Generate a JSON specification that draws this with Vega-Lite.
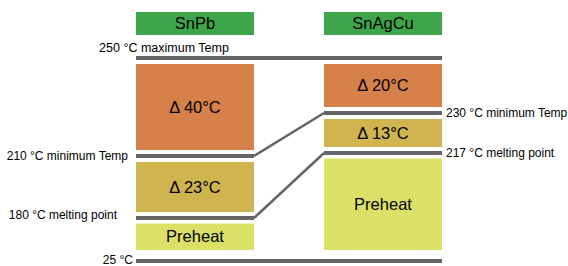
{
  "$schema": "https://vega.github.io/schema/vega-lite/v6.json",
  "width": 568,
  "height": 266,
  "autosize": "none",
  "padding": 0,
  "config": {"view": {"stroke": null}, "font": "Liberation Sans", "text": {"font": "Liberation Sans"}},
  "datasets": {
    "alloys": [{"alloy": "SnPb"}, {"alloy": "SnAgCu"}],
    "zones": [
      {"alloy": "SnPb", "top": 250, "bottom": 210, "label": "Δ 40°C", "zone": "peak"},
      {"alloy": "SnPb", "top": 210, "bottom": 180, "label": "Δ 23°C", "zone": "melt"},
      {"alloy": "SnPb", "top": 180, "bottom": 25, "label": "Preheat", "zone": "preheat"},
      {"alloy": "SnAgCu", "top": 250, "bottom": 230, "label": "Δ 20°C", "zone": "peak"},
      {"alloy": "SnAgCu", "top": 230, "bottom": 217, "label": "Δ 13°C", "zone": "melt"},
      {"alloy": "SnAgCu", "top": 217, "bottom": 25, "label": "Preheat", "zone": "preheat"}
    ],
    "lines": [
      {"temp": 250, "from": "SnPb", "to": "SnAgCu", "text": "250 °C maximum Temp"},
      {"temp": 210, "from": "SnPb", "to": "SnPb", "text": "210 °C minimum Temp"},
      {"temp": 180, "from": "SnPb", "to": "SnPb", "text": "180 °C melting point"},
      {"temp": 230, "from": "SnAgCu", "to": "SnAgCu", "text": "230 °C minimum Temp"},
      {"temp": 217, "from": "SnAgCu", "to": "SnAgCu", "text": "217 °C melting point"},
      {"temp": 25, "from": "SnPb", "to": "SnAgCu", "text": "25 °C"}
    ],
    "links": [
      {"snpb": 210, "snagcu": 230},
      {"snpb": 180, "snagcu": 217}
    ]
  },
  "layer": [
    {
      "data": {"name": "alloys"},
      "encoding": {
        "x": {"field": "alloy", "type": "nominal", "scale": {"type": "band", "domain": ["SnPb", "SnAgCu"], "range": [136, 442], "paddingInner": 0.3723, "paddingOuter": 0}, "axis": null},
        "y": {"datum": "header", "type": "nominal", "scale": {"type": "band", "range": [12, 35], "paddingInner": 0, "paddingOuter": 0}, "axis": null}
      },
      "layer": [
        {"mark": {"type": "bar", "color": "#3EA54A"}},
        {"mark": {"type": "text", "fontSize": 16.5, "color": "#000000"}, "encoding": {"text": {"field": "alloy"}}}
      ]
    },
    {
      "data": {"name": "zones"},
      "encoding": {
        "x": {"field": "alloy", "type": "nominal", "scale": {"type": "band", "domain": ["SnPb", "SnAgCu"], "range": [136, 442], "paddingInner": 0.3723, "paddingOuter": 0}, "axis": null},
        "y": {"field": "top", "type": "quantitative", "scale": {"domain": [25, 180, 210, 217, 230, 250], "range": [261, 218, 156, 153, 113, 58], "zero": false, "nice": false}, "axis": null}
      },
      "layer": [
        {
          "transform": [{"filter": "datum.zone != 'preheat'"}],
          "mark": {"type": "bar", "yOffset": 6, "y2Offset": -6},
          "encoding": {
            "y2": {"field": "bottom"},
            "color": {"field": "zone", "type": "nominal", "scale": {"domain": ["peak", "melt", "preheat"], "range": ["#D6804A", "#CFB450", "#DBE166"]}, "legend": null}
          }
        },
        {
          "transform": [{"filter": "datum.zone == 'preheat'"}],
          "mark": {"type": "bar", "yOffset": 5.5, "y2Offset": -11},
          "encoding": {
            "y2": {"field": "bottom"},
            "color": {"field": "zone", "type": "nominal", "scale": {"domain": ["peak", "melt", "preheat"], "range": ["#D6804A", "#CFB450", "#DBE166"]}, "legend": null}
          }
        },
        {
          "transform": [{"filter": "datum.alloy == 'SnPb' && datum.zone == 'peak'"}],
          "mark": {"type": "text", "fontSize": 16.5, "color": "#000000", "baseline": "middle", "dy": 49.5},
          "encoding": {"text": {"field": "label"}}
        },
        {
          "transform": [{"filter": "datum.alloy == 'SnPb' && datum.zone == 'melt'"}],
          "mark": {"type": "text", "fontSize": 16.5, "color": "#000000", "baseline": "middle", "dy": 31.5},
          "encoding": {"text": {"field": "label"}}
        },
        {
          "transform": [{"filter": "datum.alloy == 'SnPb' && datum.zone == 'preheat'"}],
          "mark": {"type": "text", "fontSize": 16.5, "color": "#000000", "baseline": "middle", "dy": 18.5},
          "encoding": {"text": {"field": "label"}}
        },
        {
          "transform": [{"filter": "datum.alloy == 'SnAgCu' && datum.zone == 'peak'"}],
          "mark": {"type": "text", "fontSize": 16.5, "color": "#000000", "baseline": "middle", "dy": 28},
          "encoding": {"text": {"field": "label"}}
        },
        {
          "transform": [{"filter": "datum.alloy == 'SnAgCu' && datum.zone == 'melt'"}],
          "mark": {"type": "text", "fontSize": 16.5, "color": "#000000", "baseline": "middle", "dy": 21},
          "encoding": {"text": {"field": "label"}}
        },
        {
          "transform": [{"filter": "datum.alloy == 'SnAgCu' && datum.zone == 'preheat'"}],
          "mark": {"type": "text", "fontSize": 16.5, "color": "#000000", "baseline": "middle", "dy": 51.5},
          "encoding": {"text": {"field": "label"}}
        },
        {
          "data": {"name": "lines"},
          "mark": {"type": "rule", "strokeWidth": 4, "color": "#646469"},
          "encoding": {
            "x": {"field": "from", "type": "nominal", "bandPosition": 0, "scale": {"type": "band", "domain": ["SnPb", "SnAgCu"], "range": [136, 442], "paddingInner": 0.3723, "paddingOuter": 0}, "axis": null},
            "x2": {"field": "to", "bandPosition": 1},
            "y": {"field": "temp", "type": "quantitative", "scale": {"domain": [25, 180, 210, 217, 230, 250], "range": [261, 218, 156, 153, 113, 58], "zero": false, "nice": false}, "axis": null}
          }
        },
        {
          "data": {"name": "links"},
          "mark": {"type": "rule", "strokeWidth": 2.5, "color": "#646469"},
          "encoding": {
            "x": {"datum": "SnPb", "type": "nominal", "bandPosition": 1, "scale": {"type": "band", "domain": ["SnPb", "SnAgCu"], "range": [136, 442], "paddingInner": 0.3723, "paddingOuter": 0}, "axis": null},
            "x2": {"datum": "SnAgCu", "bandPosition": 0},
            "y": {"field": "snpb", "type": "quantitative", "scale": {"domain": [25, 180, 210, 217, 230, 250], "range": [261, 218, 156, 153, 113, 58], "zero": false, "nice": false}, "axis": null},
            "y2": {"field": "snagcu"}
          }
        },
        {
          "data": {"name": "lines"},
          "transform": [{"filter": "datum.temp == 250"}],
          "mark": {"type": "text", "fontSize": 12.5, "color": "#000000", "align": "center", "baseline": "middle", "dy": -10},
          "encoding": {
            "x": {"datum": "SnPb", "type": "nominal", "bandPosition": 0.237, "scale": {"type": "band", "domain": ["SnPb", "SnAgCu"], "range": [136, 442], "paddingInner": 0.3723, "paddingOuter": 0}, "axis": null},
            "y": {"field": "temp", "type": "quantitative", "scale": {"domain": [25, 180, 210, 217, 230, 250], "range": [261, 218, 156, 153, 113, 58], "zero": false, "nice": false}, "axis": null},
            "text": {"field": "text"}
          }
        },
        {
          "data": {"name": "lines"},
          "transform": [{"filter": "datum.temp == 210"}],
          "mark": {"type": "text", "fontSize": 12, "color": "#000000", "align": "right", "baseline": "middle", "dx": -8},
          "encoding": {
            "x": {"datum": "SnPb", "type": "nominal", "bandPosition": 0, "scale": {"type": "band", "domain": ["SnPb", "SnAgCu"], "range": [136, 442], "paddingInner": 0.3723, "paddingOuter": 0}, "axis": null},
            "y": {"field": "temp", "type": "quantitative", "scale": {"domain": [25, 180, 210, 217, 230, 250], "range": [261, 218, 156, 153, 113, 58], "zero": false, "nice": false}, "axis": null},
            "text": {"field": "text"}
          }
        },
        {
          "data": {"name": "lines"},
          "transform": [{"filter": "datum.temp == 180"}],
          "mark": {"type": "text", "fontSize": 12, "color": "#000000", "align": "right", "baseline": "middle", "dx": -19, "dy": -3},
          "encoding": {
            "x": {"datum": "SnPb", "type": "nominal", "bandPosition": 0, "scale": {"type": "band", "domain": ["SnPb", "SnAgCu"], "range": [136, 442], "paddingInner": 0.3723, "paddingOuter": 0}, "axis": null},
            "y": {"field": "temp", "type": "quantitative", "scale": {"domain": [25, 180, 210, 217, 230, 250], "range": [261, 218, 156, 153, 113, 58], "zero": false, "nice": false}, "axis": null},
            "text": {"field": "text"}
          }
        },
        {
          "data": {"name": "lines"},
          "transform": [{"filter": "datum.temp == 25"}],
          "mark": {"type": "text", "fontSize": 12, "color": "#000000", "align": "right", "baseline": "middle", "dx": -3, "dy": -1.5},
          "encoding": {
            "x": {"datum": "SnPb", "type": "nominal", "bandPosition": 0, "scale": {"type": "band", "domain": ["SnPb", "SnAgCu"], "range": [136, 442], "paddingInner": 0.3723, "paddingOuter": 0}, "axis": null},
            "y": {"field": "temp", "type": "quantitative", "scale": {"domain": [25, 180, 210, 217, 230, 250], "range": [261, 218, 156, 153, 113, 58], "zero": false, "nice": false}, "axis": null},
            "text": {"field": "text"}
          }
        },
        {
          "data": {"name": "lines"},
          "transform": [{"filter": "datum.temp == 230 || datum.temp == 217"}],
          "mark": {"type": "text", "fontSize": 12, "color": "#000000", "align": "left", "baseline": "middle", "dx": 4},
          "encoding": {
            "x": {"datum": "SnAgCu", "type": "nominal", "bandPosition": 1, "scale": {"type": "band", "domain": ["SnPb", "SnAgCu"], "range": [136, 442], "paddingInner": 0.3723, "paddingOuter": 0}, "axis": null},
            "y": {"field": "temp", "type": "quantitative", "scale": {"domain": [25, 180, 210, 217, 230, 250], "range": [261, 218, 156, 153, 113, 58], "zero": false, "nice": false}, "axis": null},
            "text": {"field": "text"}
          }
        }
      ]
    }
  ],
  "resolve": {"scale": {"y": "independent"}}
}
